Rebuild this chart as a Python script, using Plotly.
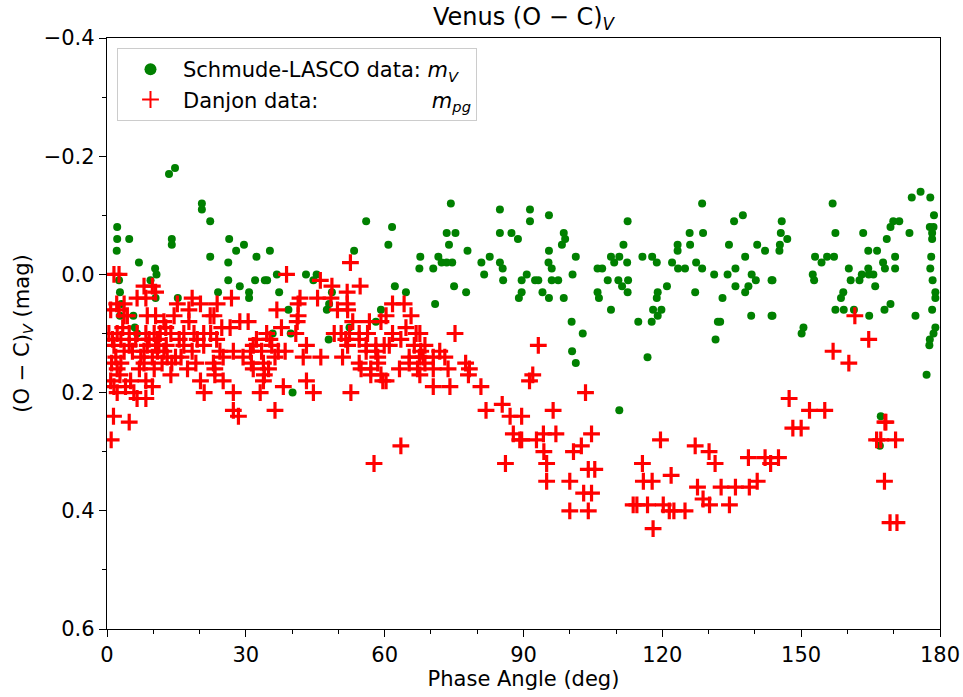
import plotly.graph_objects as go

# Schmude-LASCO data (phase angle deg, O-C mag)
schmude_phase = [
    156.8, 145.8, 145.6, 147.0, 145.4, 145.3, 143.8, 143.8, 157.4, 153.0, 154.4, 155.6, 157.1, 152.5, 152.8,
    150.5, 150.1, 163.4, 160.3, 160.7, 159.1, 158.6, 157.4, 159.2, 161.4, 164.5, 166.4, 162.6, 163.1, 164.5,
    164.6, 165.6, 166.0, 164.7, 167.7, 168.1, 170.3, 170.3, 168.5, 169.3, 169.9, 171.2, 173.4, 169.3, 168.0,
    174.7, 173.9, 175.8, 177.9, 178.7, 177.8, 178.6, 178.3, 178.3, 178.1, 177.9, 178.4, 179.0, 179.0, 178.3,
    179.0, 178.6, 177.8, 177.7, 177.1, 167.2, 167.0,
    128.6, 112.5, 135.5, 137.4, 125.9, 128.8, 111.6, 123.3, 126.0, 134.4, 140.5, 142.2, 123.3, 108.9, 110.7,
    109.6, 112.4, 115.7, 117.8, 118.8, 122.1, 123.4, 124.9, 127.3, 128.6, 137.9, 135.8, 106.0, 107.0, 108.2,
    110.5, 112.6, 111.3, 112.5, 106.0, 106.3, 108.9, 114.8, 117.7, 118.0, 119.8, 119.0, 119.0, 118.8, 121.0,
    127.1, 131.2, 134.1, 139.3, 140.2, 138.6, 137.9, 135.8, 133.0, 143.6, 132.0, 132.5, 131.5, 139.2, 143.6,
    116.8, 110.7,
    74.3, 84.9, 91.4, 95.5, 91.4, 73.4, 75.3, 84.9, 87.4, 88.8, 98.7, 99.0, 98.3, 73.9, 77.9,
    95.5, 71.6, 72.3, 73.4, 74.6, 80.9, 82.7, 84.9, 85.5, 95.4, 96.1, 101.3, 70.5, 81.5, 90.7,
    100.6, 85.6, 89.6, 92.5, 93.2, 96.1, 97.5, 75.0, 77.6, 89.6, 94.1, 89.0, 95.5, 98.7, 70.9,
    100.4, 102.8, 100.5, 101.3,
    56.0, 61.6, 60.8, 53.4, 67.7, 67.5, 45.3, 62.2, 64.6, 48.6, 48.0, 47.5, 59.2, 58.1, 52.4, 47.9,
    22.3, 26.4, 27.9, 29.6, 32.3, 35.2, 22.3, 26.2, 26.2, 32.0, 34.1, 34.6, 36.7, 43.0, 44.6,
    28.7, 24.0, 30.7, 30.7, 37.2, 39.2, 35.8, 39.7, 40.1,
    13.4, 14.7, 20.5, 20.5, 2.2, 2.2, 4.8, 2.1, 14.0, 14.0, 6.9, 10.4, 10.7, 9.4, 2.6,
    2.8, 10.5, 15.3, 3.1, 5.7, 2.8, 6.0, 6.5,
]
schmude_oc = [
    -0.12, -0.09, -0.07, -0.06, -0.05, -0.04, 0.01, 0.07, -0.07, -0.03, -0.02, -0.03, -0.03, 0.00, 0.01,
    0.09, 0.10, -0.07, -0.01, 0.01, 0.03, 0.04, 0.06, 0.06, 0.06, -0.04, -0.04, 0.01, 0.00, -0.01,
    0.00, 0.00, 0.02, 0.07, -0.02, -0.01, -0.03, -0.01, -0.06, -0.08, -0.09, -0.09, -0.07, 0.05, 0.06,
    0.07, -0.13, -0.14, -0.13, -0.10, -0.08, -0.08, -0.07, -0.06, -0.03, -0.01, 0.01, 0.03, 0.04, 0.06,
    0.09, 0.10, 0.11, 0.12, 0.17, 0.24, 0.29,
    -0.12, -0.09, -0.09, -0.10, -0.07, -0.07, -0.05, -0.05, -0.05, -0.05, -0.05, -0.04, -0.04, -0.03, -0.03,
    -0.02, -0.02, -0.03, -0.03, -0.02, -0.02, -0.01, -0.01, -0.02, -0.01, -0.03, -0.01, -0.01, -0.01, 0.01,
    0.01, 0.01, 0.02, 0.03, 0.03, 0.04, 0.06, 0.08, 0.08, 0.06, 0.06, 0.07, 0.03, 0.04, 0.02,
    0.03, 0.00, 0.00, 0.00, 0.01, 0.02, 0.03, 0.02, 0.04, 0.01, 0.08, 0.08, 0.11, 0.07, 0.07,
    0.14, 0.23,
    -0.12, -0.11, -0.11, -0.10, -0.09, -0.07, -0.07, -0.07, -0.07, -0.06, -0.07, -0.06, -0.05, -0.05, -0.04,
    -0.04, -0.03, -0.02, -0.02, -0.02, -0.02, -0.03, -0.02, -0.01, -0.02, -0.01, -0.03, -0.01, 0.00, 0.00,
    0.00, 0.01, 0.01, 0.01, 0.01, 0.01, 0.01, 0.02, 0.03, 0.03, 0.03, 0.04, 0.04, 0.04, 0.05,
    0.08, 0.10, 0.13, 0.15,
    -0.09, -0.08, -0.05, -0.04, -0.03, -0.01, 0.00, 0.02, 0.03, 0.03, 0.05, 0.06, 0.06, 0.08, 0.09, 0.11,
    -0.09, -0.06, -0.04, -0.05, -0.03, -0.04, -0.03, -0.02, 0.01, 0.01, 0.01, 0.01, 0.00, 0.00, 0.01,
    0.02, 0.03, 0.03, 0.04, 0.03, 0.06, 0.10, 0.10, 0.20,
    -0.17, -0.18, -0.12, -0.11, -0.08, -0.06, -0.06, -0.04, -0.06, -0.05, -0.02, -0.01, 0.00, 0.01, 0.01,
    0.03, 0.04, 0.04, 0.05, 0.07, 0.07, 0.09, 0.10,
]

# Danjon data
danjon_phase = [
    161.6, 164.6, 156.9, 160.3, 147.4, 151.8, 155.1, 148.2, 150.0, 145.1, 143.4, 142.2, 168.1, 168.3, 166.3,
    167.2, 170.4, 168.0, 169.2, 170.7,
    119.6, 115.7, 115.9, 117.8, 121.9, 127.1, 130.1, 131.4, 127.6, 128.8, 130.2, 132.7, 135.8, 138.8, 140.5,
    138.6, 113.7, 114.5, 116.8, 120.2, 121.5, 122.5, 124.9, 118.0, 134.5, 105.4, 104.7,
    75.2, 93.2, 70.5, 74.1, 77.5, 78.3, 78.1, 80.8, 81.9, 85.4, 87.1, 89.6, 92.0, 91.3, 96.4,
    103.4, 87.8, 89.2, 89.6, 92.8, 94.3, 97.0, 94.4, 95.0, 95.0, 86.1, 100.8, 102.5, 104.0, 100.0,
    103.0, 104.7, 100.0, 104.0,
    67.6, 68.7, 71.9, 68.3, 70.5, 73.0, 68.7, 70.5, 73.7, 67.6,
    52.6, 46.1, 48.6, 54.7, 51.9, 45.5, 48.4, 51.9, 49.8, 52.0, 61.7, 64.2, 60.3, 65.7, 53.1,
    56.7, 59.2, 49.1, 50.6, 52.4, 54.5, 56.3, 61.7, 64.6, 66.8, 51.6, 54.5, 63.5, 52.0, 56.0,
    58.1, 59.9, 61.0, 66.4, 58.1, 56.0, 67.8, 50.9, 46.2, 58.5, 65.3, 67.5, 54.5, 58.5, 65.3,
    54.9, 57.0, 63.2, 67.1, 57.0, 59.2, 60.3, 59.6, 52.7, 57.7, 63.5,
    38.8, 41.7, 41.3, 26.9, 23.8, 36.7, 23.1, 41.3, 41.1, 28.7, 30.5, 24.8, 26.6, 37.7, 40.8,
    34.5, 23.7, 32.3, 35.2, 35.6, 31.6, 43.1, 24.4, 27.3, 31.0, 33.4, 37.0, 38.5, 25.1, 29.4,
    36.3, 42.4, 23.0, 31.2, 33.8, 23.3, 31.6, 34.9, 23.3, 34.0, 25.1, 33.8, 43.1, 38.1, 44.6,
    27.3, 33.1, 27.3, 28.4, 36.3,
    1.5, 2.6, 8.0, 9.8, 10.5, 6.5, 8.4, 15.2, 18.4, 20.2, 2.1, 3.7, 0.8, 2.6, 3.7,
    4.4, 8.7, 10.5, 14.5, 17.7, 17.7, 22.3, 12.3, 12.7, 0.4, 2.2, 4.8, 6.5, 8.4, 10.2,
    13.8, 16.6, 18.8, 20.9, 22.4, 3.0, 6.2, 9.1, 10.9, 15.6, 1.5, 4.8, 8.7, 10.5, 11.2,
    16.6, 20.9, 3.7, 8.0, 10.9, 12.3, 18.4, 1.9, 7.3, 9.8, 14.8, 3.0, 8.0, 11.9, 19.2,
    2.2, 10.2, 17.4, 13.8, 0.8, 5.1, 8.4, 20.2, 1.5, 9.8, 2.2, 5.8, 6.5, 8.4, 21.0,
    1.4, 4.8, 0.9,
    1.0, 2.8, 4.0, 3.4, 1.2, 5.5, 7.0, 12.8, 14.0, 16.0, 19.5, 11.5, 13.0,
]
danjon_oc = [
    0.07, 0.11, 0.13, 0.15, 0.21, 0.23, 0.23, 0.26, 0.26, 0.31, 0.32, 0.31, 0.25, 0.25, 0.28,
    0.28, 0.28, 0.35, 0.42, 0.42,
    0.28, 0.32, 0.35, 0.35, 0.34, 0.29, 0.30, 0.32, 0.36, 0.38, 0.39, 0.36, 0.36, 0.36, 0.35,
    0.31, 0.39, 0.39, 0.39, 0.39, 0.40, 0.40, 0.40, 0.43, 0.39, 0.33, 0.27,
    0.10, 0.12, 0.19, 0.19, 0.15, 0.16, 0.17, 0.19, 0.23, 0.22, 0.24, 0.24, 0.17, 0.18, 0.23,
    0.20, 0.27, 0.28, 0.28, 0.28, 0.27, 0.27, 0.30, 0.32, 0.35, 0.32, 0.30, 0.29, 0.33, 0.35,
    0.37, 0.37, 0.40, 0.40,
    0.10, 0.12, 0.13, 0.14, 0.14, 0.14, 0.15, 0.16, 0.16, 0.17,
    -0.02, 0.01, 0.02, 0.02, 0.03, 0.04, 0.04, 0.05, 0.06, 0.06, 0.05, 0.05, 0.07, 0.07, 0.08,
    0.08, 0.08, 0.10, 0.10, 0.10, 0.10, 0.10, 0.10, 0.09, 0.10, 0.11, 0.11, 0.11, 0.12, 0.12,
    0.12, 0.12, 0.12, 0.12, 0.13, 0.13, 0.13, 0.14, 0.14, 0.14, 0.14, 0.14, 0.15, 0.15, 0.15,
    0.16, 0.16, 0.16, 0.16, 0.17, 0.17, 0.18, 0.18, 0.20, 0.32, 0.29,
    0.00, 0.04, 0.05, 0.04, 0.05, 0.06, 0.07, 0.07, 0.08, 0.08, 0.08, 0.09, 0.09, 0.09, 0.10,
    0.10, 0.11, 0.11, 0.11, 0.12, 0.12, 0.12, 0.13, 0.13, 0.13, 0.13, 0.13, 0.13, 0.14, 0.14,
    0.14, 0.14, 0.15, 0.15, 0.15, 0.16, 0.16, 0.16, 0.17, 0.17, 0.18, 0.18, 0.18, 0.19, 0.20,
    0.20, 0.20, 0.23, 0.24, 0.23,
    0.00, 0.00, 0.02, 0.02, 0.03, 0.04, 0.04, 0.05, 0.04, 0.05, 0.05, 0.05, 0.06, 0.06, 0.07,
    0.07, 0.07, 0.07, 0.07, 0.06, 0.08, 0.07, 0.08, 0.09, 0.10, 0.10, 0.10, 0.10, 0.10, 0.10,
    0.10, 0.10, 0.10, 0.10, 0.10, 0.11, 0.11, 0.11, 0.11, 0.11, 0.12, 0.12, 0.12, 0.12, 0.12,
    0.12, 0.12, 0.13, 0.13, 0.13, 0.13, 0.13, 0.14, 0.14, 0.14, 0.14, 0.15, 0.15, 0.15, 0.15,
    0.16, 0.16, 0.16, 0.17, 0.18, 0.18, 0.18, 0.18, 0.19, 0.19, 0.20, 0.20, 0.21, 0.21, 0.20,
    0.24, 0.25, 0.28,
    0.15, 0.17, 0.19, 0.09, 0.11, 0.13, 0.16, 0.12, 0.15, 0.14, 0.11, 0.10, 0.14,
]

FONT = "DejaVu Sans, Arial, sans-serif"
NB = "\u00a0"

fig = go.Figure()
fig.add_trace(go.Scatter(
    x=schmude_phase, y=schmude_oc, mode="markers",
    name="Schmude-LASCO data: <i>m</i><sub><i>V</i></sub>",
    marker=dict(symbol="circle", size=8, color="#008000", line=dict(width=0)),
))
fig.add_trace(go.Scatter(
    x=danjon_phase, y=danjon_oc, mode="markers",
    name="Danjon data:" + NB * 17 + "<i>m</i><sub><i>pg</i></sub>",
    marker=dict(symbol="cross-thin", size=12, color="#ff0000", line=dict(width=3.2, color="#ff0000")),
))

axis_common = dict(
    showgrid=False, zeroline=False, showline=True, linecolor="black", linewidth=1.3,
    mirror=True, ticks="outside", ticklen=7, tickwidth=1.3, tickcolor="black",
    tickfont=dict(family=FONT, size=21, color="black"), automargin=False,
)

fig.update_xaxes(
    range=[0, 180], tickvals=[0, 30, 60, 90, 120, 150, 180],
    minor=dict(dtick=10, ticks="outside", ticklen=4, tickwidth=1, tickcolor="black"),
    title=dict(text="Phase Angle (deg)", font=dict(family=FONT, size=21, color="black"), standoff=4),
    **axis_common,
)
fig.update_yaxes(
    range=[0.6, -0.4], tickvals=[-0.4, -0.2, 0.0, 0.2, 0.4, 0.6], tickformat=".1f",
    minor=dict(dtick=0.1, ticks="outside", ticklen=4, tickwidth=1, tickcolor="black"),
    title=dict(text="(O − C)<sub><i>V</i></sub> (mag)", font=dict(family=FONT, size=21, color="black"), standoff=8),
    **axis_common,
)

fig.update_layout(
    width=963, height=697,
    margin=dict(l=107, r=23, t=38, b=68),
    paper_bgcolor="white", plot_bgcolor="white",
    title=dict(text="Venus (O − C)<sub><i>V</i></sub>", xref="paper", x=0.5, xanchor="center",
               yref="container", y=0.976, yanchor="middle",
               font=dict(family=FONT, size=24, color="black")),
    font=dict(family=FONT, size=21, color="black"),
    legend=dict(x=0.012, y=0.983, xanchor="left", yanchor="top",
                bgcolor="rgba(255,255,255,0.8)", bordercolor="#cccccc", borderwidth=1,
                font=dict(family=FONT, size=21, color="black"),
                itemsizing="constant", itemwidth=55),
    showlegend=True,
)

fig.write_html("out.html", config={"displayModeBar": False},
               post_script="document.body.style.margin='0';")
